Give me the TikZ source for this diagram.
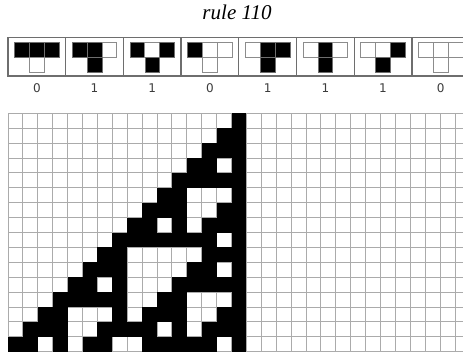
\documentclass[tikz,border=0pt]{standalone}
\usepackage{fontspec}
\setmainfont{Liberation Serif}
\newfontfamily\bitfont{DejaVu Sans}
\usetikzlibrary{positioning,calc}
\definecolor{gridline}{HTML}{ABABAB}
\definecolor{frame}{HTML}{6E6E6E}
\definecolor{cellline}{HTML}{8C8C8C}
\definecolor{bittext}{HTML}{3C3C3C}
\tikzset{
  title/.style    ={font=\fontsize{21}{24}\selectfont\itshape, anchor=base, inner sep=0pt},
  rulebox/.style  ={draw=frame, line width=1.3pt, minimum width=57.7pt,
                    minimum height=38.7pt, inner sep=0pt},
  outbit/.style   ={font=\bitfont\fontsize{12}{14}\selectfont, text=bittext},
  whitecell/.style={draw=cellline, fill=white, line width=0.9pt},
  blackcell/.style={fill=black},
  % black cells of a rule box keep a faint outline
  ruleblack/.style={draw=frame, fill=black, line width=0.6pt},
  gridrule/.style ={draw=gridline, line width=0.9pt},
}

\begin{document}
\begin{tikzpicture}[x=1pt,y=-1pt]
  \useasboundingbox (0,0) rectangle (463,354);
  \clip (0,0) rectangle (463,354);
  \node[title] (title) at (237,19) {rule 110};
  % the eight neighbourhoods, left / middle / right, and the new cell
  \foreach \k/\lf/\md/\rt/\res in {0/1/1/1/0, 1/1/1/0/1, 2/1/0/1/1, 3/1/0/0/0,
                                   4/0/1/1/1, 5/0/1/0/1, 6/0/0/1/1, 7/0/0/0/0} {
    \pgfmathsetmacro\cx{8+57.7*(\k+0.5)}
    \node[rulebox] (box\k) at (\cx,56.7) {};
    \node[outbit]  (bit\k) at (\cx,88.3) {\res};
    \foreach \b [count=\i from 0] in {\lf,\md,\rt} {
      \ifnum\b=1
        \draw[ruleblack] (\cx-22.2+14.8*\i,42.5) rectangle +(14.8,14.8);
      \else
        \draw[whitecell] (\cx-22.2+14.8*\i,42.5) rectangle +(14.8,14.8);
      \fi
    }
    \ifnum\res=1
      \draw[ruleblack] (\cx-7.4,57.3) rectangle +(14.8,14.8);
    \else
      \draw[whitecell] (\cx-7.4,57.3) rectangle +(14.8,14.8);
    \fi
  }
  % evolution grid
  \foreach \i in {0,...,30}
    \draw[gridrule] (8+14.9*\i,113.3) -- (8+14.9*\i,351.7);
  \foreach \j in {0,...,16}
    \draw[gridrule] (8,113.3+14.9*\j) -- (463,113.3+14.9*\j);
  \foreach \row/\cols in {0/{15}, 1/{14,15}, 2/{13,14,15}, 3/{12,13,15},
      4/{11,12,13,14,15}, 5/{10,11,15}, 6/{9,10,11,14,15},
      7/{8,9,11,13,14,15}, 8/{7,8,9,10,11,12,13,15}, 9/{6,7,13,14,15},
      10/{5,6,7,12,13,15}, 11/{4,5,7,11,12,13,14,15},
      12/{3,4,5,6,7,10,11,15}, 13/{2,3,7,9,10,11,14,15},
      14/{1,2,3,6,7,8,9,11,13,14,15}, 15/{0,1,3,5,6,9,10,11,12,13,15}}
    \foreach \col in \cols
      \fill[blackcell] (8+14.9*\col,113.3+14.9*\row) rectangle +(14.9,14.9);
\end{tikzpicture}
\end{document}
